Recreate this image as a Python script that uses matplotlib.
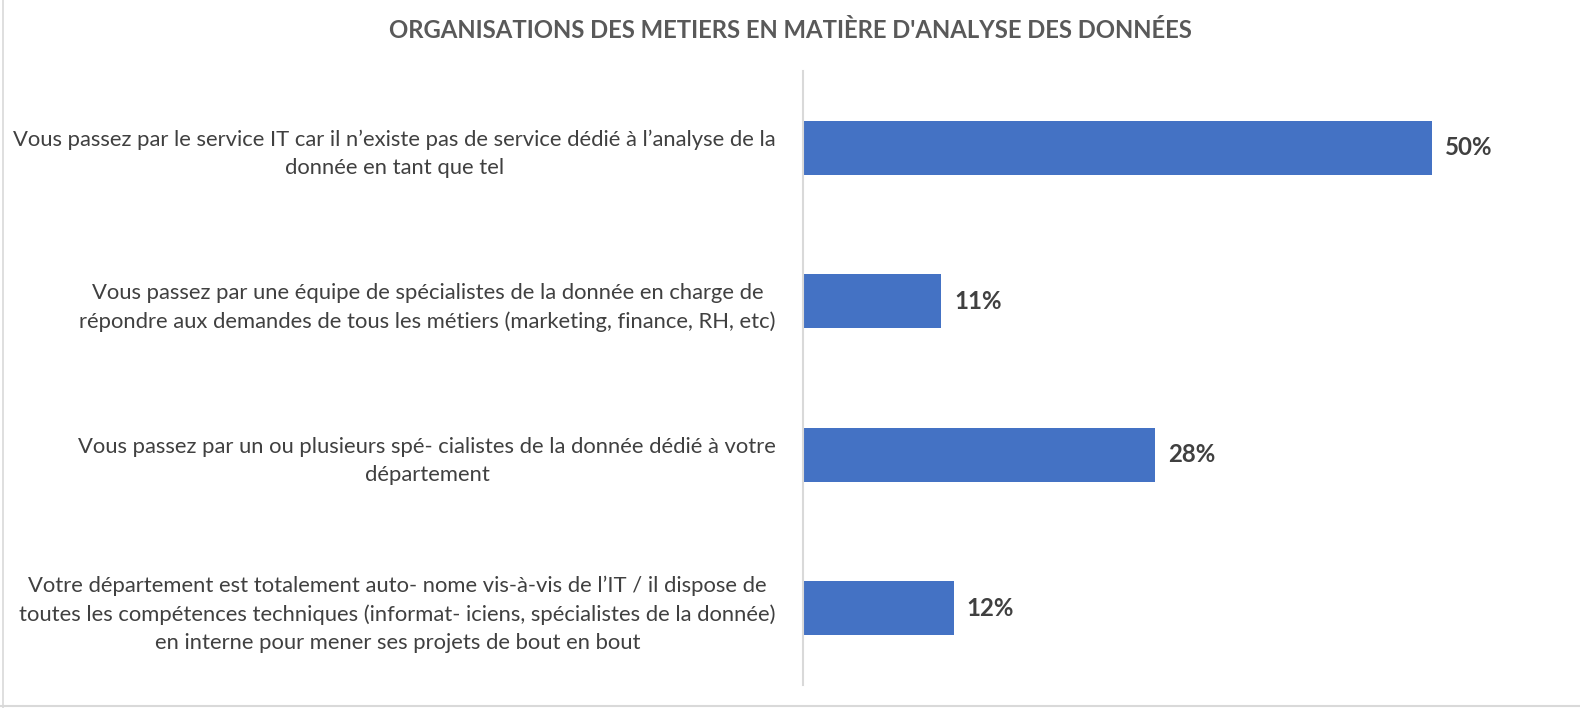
import matplotlib.pyplot as plt
from matplotlib.lines import Line2D

plt.rcParams['font.family'] = ['Lato', 'DejaVu Sans']

title = "ORGANISATIONS DES METIERS EN MATIÈRE D'ANALYSE DES DONNÉES"
categories = [
    "Vous passez par le service IT car il n\u2019existe pas de service dédié à l\u2019analyse de la\ndonnée en tant que tel",
    "Vous passez par une équipe de spécialistes de la donnée en charge de\nrépondre aux demandes de tous les métiers (marketing, finance, RH, etc)",
    "Vous passez par un ou plusieurs spé- cialistes de la donnée dédié à votre\ndépartement",
    "Votre département est totalement auto- nome vis-à-vis de l\u2019IT / il dispose de\ntoutes les compétences techniques (informat- iciens, spécialistes de la donnée)\nen interne pour mener ses projets de bout en bout",
]
values = [50, 11, 28, 12]

bar_color = "#4472C4"
text_color = "#404040"

fig = plt.figure(figsize=(15.8, 7.08), dpi=100)
ax = fig.add_axes([803 / 1580, 1 - 685 / 708, (1558 - 803) / 1580, (685 - 71) / 708])

pos = list(range(len(categories)))
bars = ax.barh(pos, values, height=0.35, color=bar_color)
ax.set_ylim(3.5, -0.5)
ax.set_xlim(0, 60)

for b, v in zip(bars, values):
    ax.text(b.get_width() + 1.0, b.get_y() + b.get_height() / 2, f"{v}%",
            va="center", ha="left", fontsize=17.3, fontweight="bold", color=text_color)

ax.set_yticks(pos)
ax.set_yticklabels(categories, fontsize=15.8, color=text_color, multialignment="center",
                   linespacing=1.52)
ax.tick_params(axis="y", length=0, pad=19.5)
ax.set_xticks([])
for s in ["top", "right", "bottom"]:
    ax.spines[s].set_visible(False)
ax.spines["left"].set_color("#D9D9D9")
ax.spines["left"].set_linewidth(1.5)

fig.text(790 / 1580, 1 - 31 / 708, title, ha="center", va="center",
         fontsize=17.2, fontweight="bold", color="#595959")

# spreadsheet frame edges
fig.add_artist(Line2D([3 / 1580, 3 / 1580], [0, 1], color="#D9D9D9", lw=1.2))
fig.add_artist(Line2D([0, 1], [1 - 706 / 708, 1 - 706 / 708], color="#D9D9D9", lw=1.5))

fig.savefig("out.png", dpi=100)
